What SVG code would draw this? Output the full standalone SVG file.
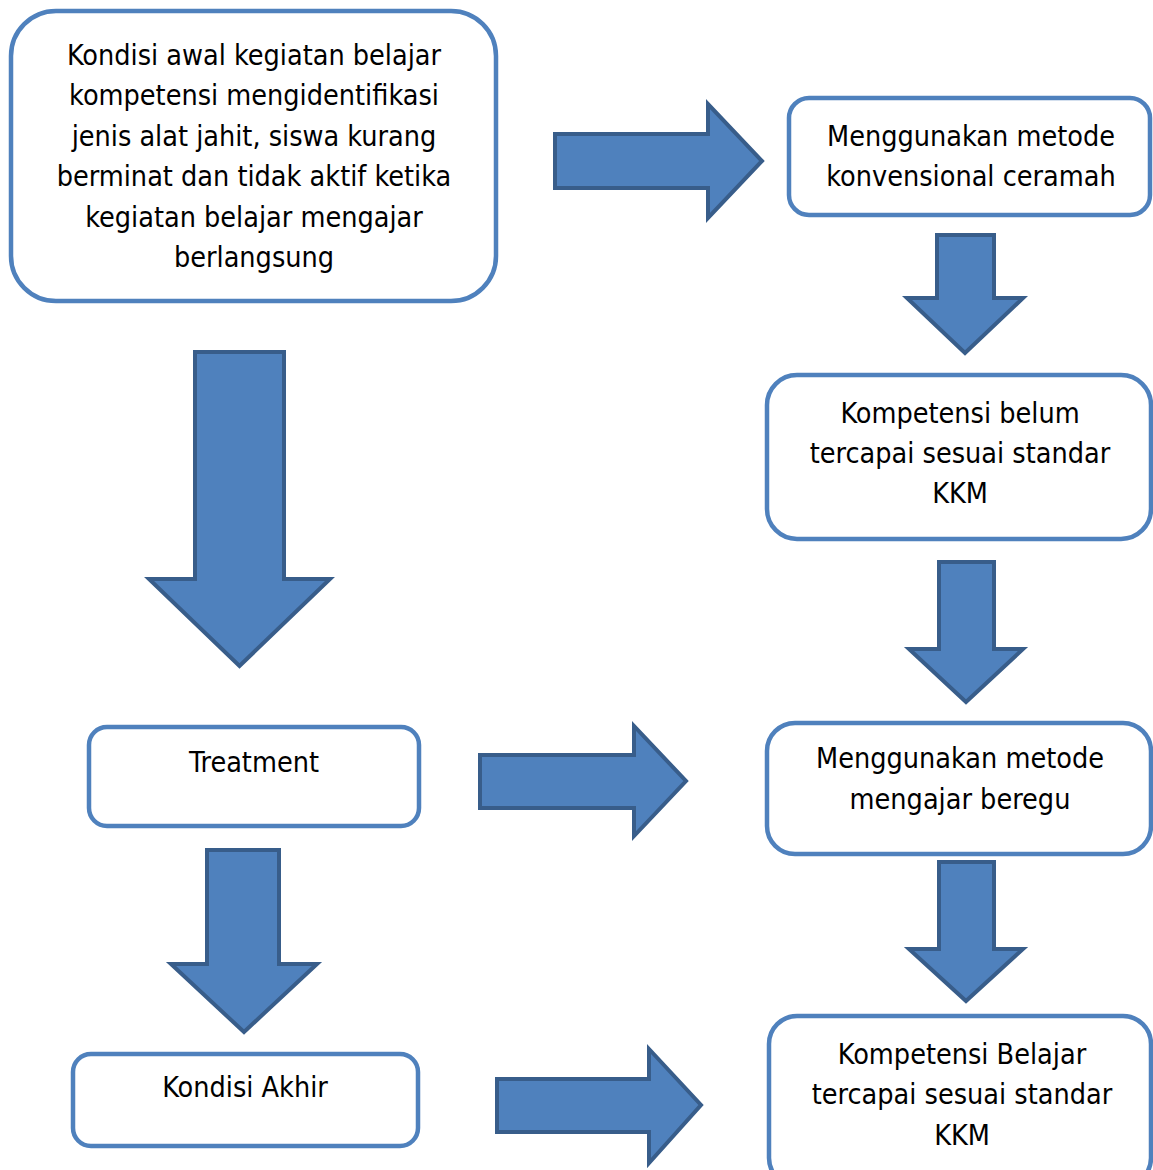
<svg xmlns="http://www.w3.org/2000/svg" width="1153" height="1170" viewBox="0 0 1153 1170">
<style>
.box{fill:#fff;stroke:#4F81BD;stroke-width:4.5}
.arr{fill:#4F81BD;stroke:#385D8A;stroke-width:4;stroke-linejoin:miter}
.t{font-family:"DejaVu Sans Condensed","DejaVu Sans",sans-serif;font-size:28.5px;fill:#000;text-anchor:middle}
</style>
<rect width="1153" height="1170" fill="#fff"/>
<g id="connectors">
<polygon class="arr" points="555,134 708,134 708,104 762,161 708,218 708,188 555,188"/>
<polygon class="arr" points="195,352 284,352 284,579 330,579 239.5,666 149,579 195,579"/>
<polygon class="arr" points="937,235 994,235 994,298 1023,298 965,353 907,298 937,298"/>
<polygon class="arr" points="939,562 994,562 994,649 1023,649 966,702 909,649 939,649"/>
<polygon class="arr" points="480,755 634,755 634,726 686,781 634,836 634,808 480,808"/>
<polygon class="arr" points="207,850 279,850 279,964 317,964 244,1032 171,964 207,964"/>
<polygon class="arr" points="497,1079 649,1079 649,1049 701,1105 649,1163 649,1132 497,1132"/>
<polygon class="arr" points="939,862 994,862 994,949 1023,949 966,1001 909,949 939,949"/>
</g>
<g id="node-kondisi-awal">
<rect class="box" x="11" y="11" width="485" height="290" rx="45"/>
<text class="t" x="254" y="65">Kondisi awal kegiatan belajar</text>
<text class="t" x="254" y="105">kompetensi mengidentifikasi</text>
<text class="t" x="254" y="146">jenis alat jahit, siswa kurang</text>
<text class="t" x="254" y="186">berminat dan tidak aktif ketika</text>
<text class="t" x="254" y="227">kegiatan belajar mengajar</text>
<text class="t" x="254" y="267">berlangsung</text>
</g>
<g id="node-konvensional">
<rect class="box" x="789" y="98" width="361" height="117" rx="20"/>
<text class="t" x="971" y="146">Menggunakan metode</text>
<text class="t" x="971" y="186">konvensional ceramah</text>
</g>
<g id="node-belum-tercapai">
<rect class="box" x="767" y="375" width="384" height="164" rx="30"/>
<text class="t" x="960" y="423">Kompetensi belum</text>
<text class="t" x="960" y="463">tercapai sesuai standar</text>
<text class="t" x="960" y="503">KKM</text>
</g>
<g id="node-treatment">
<rect class="box" x="89" y="727" width="330" height="99" rx="18"/>
<text class="t" x="254" y="772">Treatment</text>
</g>
<g id="node-beregu">
<rect class="box" x="767" y="723" width="384" height="131" rx="28"/>
<text class="t" x="960" y="768">Menggunakan metode</text>
<text class="t" x="960" y="809">mengajar beregu</text>
</g>
<g id="node-kondisi-akhir">
<rect class="box" x="73" y="1054" width="345" height="92" rx="18"/>
<text class="t" x="245" y="1097">Kondisi Akhir</text>
</g>
<g id="node-tercapai">
<rect class="box" x="769" y="1016" width="382" height="170" rx="28"/>
<text class="t" x="962" y="1064">Kompetensi Belajar</text>
<text class="t" x="962" y="1104">tercapai sesuai standar</text>
<text class="t" x="962" y="1145">KKM</text>
</g>
</svg>
